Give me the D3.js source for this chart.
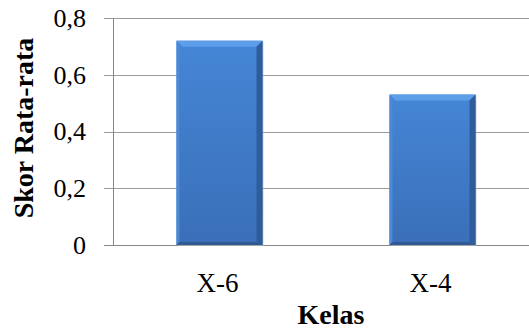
<!DOCTYPE html>
<html>
<head>
<meta charset="utf-8">
<script src="https://cdn.jsdelivr.net/npm/d3@7"></script>
<style>
    body { margin: 0; background: #fff; }
    svg { display: block; font-family: 'Liberation Serif', 'Times New Roman', serif; }
    .tick-label { font-size: 26px; fill: #000; }
    .cat-label { font-size: 27px; fill: #000; }
    .axis-title { font-size: 28px; font-weight: bold; fill: #000; }
</style>
</head>
<body>
<div id="chart"></div>
<script>
var CATEGORIES = ['X-6', 'X-4']
var VALUES = [0.72, 0.53]
var Y_TICKS = [0, 0.2, 0.4, 0.6, 0.8]
var Y_TICK_LABELS = ['0', '0,2', '0,4', '0,6', '0,8']
var X_TITLE = 'Kelas'
var Y_TITLE = 'Skor Rata-rata'

var width = 529
var height = 331
var plot = { left: 113, right: 539, top: 18, bottom: 245 }

var svg = d3.select('#chart')
    .append('svg')
    .attr('width', width)
    .attr('height', height)

var x = d3.scaleBand()
    .domain(CATEGORIES)
    .range([plot.left, plot.right])
    .paddingInner(0.596)
    .paddingOuter(0.298)

var y = d3.scaleLinear()
    .domain([0, 0.8])
    .range([plot.bottom, plot.top])

var defs = svg.append('defs')
var grad = defs.append('linearGradient')
    .attr('id', 'barFill')
    .attr('x1', 0).attr('y1', 0).attr('x2', 0).attr('y2', 1)
grad.append('stop').attr('offset', '0%').attr('stop-color', '#4586d6')
grad.append('stop').attr('offset', '100%').attr('stop-color', '#3a6fb8')

// gridlines
svg.append('g')
    .selectAll('line')
    .data(Y_TICKS)
    .enter().append('line')
    .attr('x1', plot.left - 9)
    .attr('x2', width)
    .attr('y1', function (d) { return Math.round(y(d)) + 0.5 })
    .attr('y2', function (d) { return Math.round(y(d)) + 0.5 })
    .attr('stroke', function (d) { return d === 0 ? '#868686' : '#9a9a9a' })
    .attr('stroke-width', 1)

// y axis line
svg.append('line')
    .attr('x1', plot.left + 0.5).attr('x2', plot.left + 0.5)
    .attr('y1', y(0.8)).attr('y2', y(0))
    .attr('stroke', '#868686')

// tick labels
svg.append('g')
    .selectAll('text')
    .data(Y_TICKS)
    .enter().append('text')
    .attr('class', 'tick-label')
    .attr('x', 86)
    .attr('y', function (d) { return y(d) })
    .attr('dy', '0.34em')
    .attr('text-anchor', 'end')
    .text(function (d, i) { return Y_TICK_LABELS[i] })

// bars with bevel
var bev = 6
var bars = svg.append('g')
    .selectAll('g')
    .data(VALUES)
    .enter().append('g')

bars.append('rect')
    .attr('x', function (d, i) { return x(CATEGORIES[i]) + 1 })
    .attr('y', function (d) { return y(d) + 1 })
    .attr('width', x.bandwidth())
    .attr('height', function (d) { return y(0) - y(d) })
    .attr('fill', '#b8b8b8')
    .attr('opacity', 0.6)

bars.append('rect')
    .attr('x', function (d, i) { return x(CATEGORIES[i]) })
    .attr('y', function (d) { return y(d) })
    .attr('width', x.bandwidth())
    .attr('height', function (d) { return y(0) - y(d) })
    .attr('fill', 'url(#barFill)')

bars.append('polygon')
    .attr('points', function (d, i) {
        var x0 = x(CATEGORIES[i]), x1 = x0 + x.bandwidth(), t = y(d)
        return [[x0, t], [x1, t], [x1 - bev, t + bev], [x0 + bev, t + bev]].join(' ')
    })
    .attr('fill', '#5e9de8')

bars.append('polygon')
    .attr('points', function (d, i) {
        var x0 = x(CATEGORIES[i]), t = y(d), b = y(0)
        return [[x0, t], [x0 + 3, t + bev], [x0 + 3, b - 3], [x0, b]].join(' ')
    })
    .attr('fill', '#4c8ad6')

bars.append('polygon')
    .attr('points', function (d, i) {
        var x1 = x(CATEGORIES[i]) + x.bandwidth(), t = y(d), b = y(0)
        return [[x1, t], [x1 - bev, t + bev], [x1 - bev, b - 3], [x1, b]].join(' ')
    })
    .attr('fill', '#2f5d9c')

bars.append('polygon')
    .attr('points', function (d, i) {
        var x0 = x(CATEGORIES[i]), x1 = x0 + x.bandwidth(), b = y(0)
        return [[x0, b], [x0 + 3, b - 3], [x1 - bev, b - 3], [x1, b]].join(' ')
    })
    .attr('fill', '#2f5a96')

// category labels
svg.append('g')
    .selectAll('text')
    .data(CATEGORIES)
    .enter().append('text')
    .attr('class', 'cat-label')
    .attr('x', function (d) { return x(d) + x.bandwidth() / 2 - 2 })
    .attr('y', 292)
    .attr('text-anchor', 'middle')
    .text(function (d) { return d })

svg.append('text')
    .attr('class', 'axis-title')
    .attr('x', 331)
    .attr('y', 324)
    .attr('text-anchor', 'middle')
    .text(X_TITLE)

svg.append('text')
    .attr('class', 'axis-title')
    .attr('transform', 'translate(33,128) rotate(-90)')
    .attr('text-anchor', 'middle')
    .text(Y_TITLE)
</script>
</body>
</html>
